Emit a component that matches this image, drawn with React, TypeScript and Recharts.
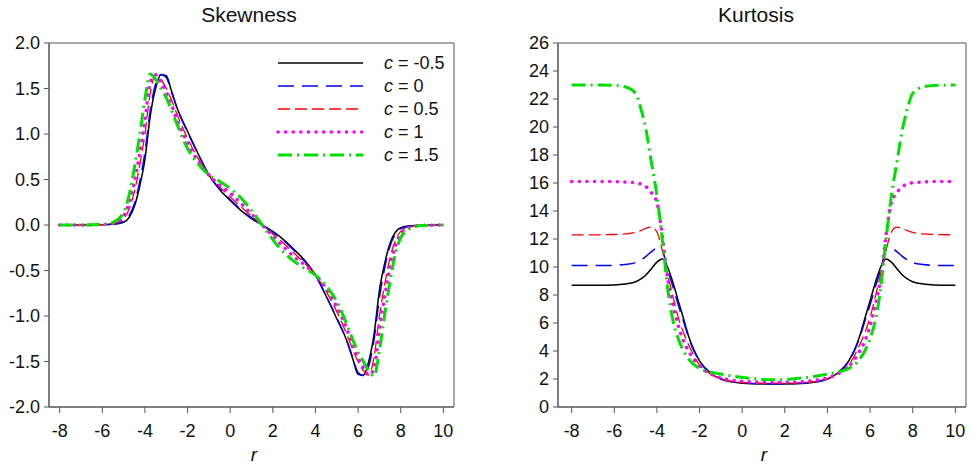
import React from 'react';
import { LineChart, Line, XAxis, YAxis, ReferenceArea } from 'recharts';

// r grid (shared by both panels)
const R = [
  -8, -7, -6, -5.5, -5, -4.75, -4.5, -4.25, -4, -3.75, -3.5, -3.25, -3, -2.75, -2.5, -2, -1.5, -1, -0.5, 0, 0.5, 1,
  1.5, 2, 2.5, 3, 3.5, 4, 4.5, 5, 5.5, 5.75, 6, 6.25, 6.5, 6.75, 7, 7.25, 7.5, 7.75, 8, 8.5, 9, 10,
];

// Skewness
const SKEW_CM05 = [
  0, 0, 0.002, 0.008, 0.03, 0.08, 0.2, 0.42, 0.72, 1.2, 1.5, 1.65, 1.64, 1.47, 1.29, 1.03, 0.78, 0.55, 0.39, 0.27, 0.16, 0.07,
  0, -0.07, -0.16, -0.27, -0.39, -0.55, -0.78, -1.03, -1.29, -1.47, -1.64, -1.65, -1.5, -1.2, -0.72, -0.42, -0.2, -0.08, -0.03, -0.008, -0.002, 0,
];
const SKEW_C0 = [
  0, 0, 0.003, 0.01, 0.04, 0.1, 0.23, 0.47, 0.8, 1.26, 1.55, 1.655, 1.62, 1.46, 1.29, 1.02, 0.78, 0.55, 0.4, 0.28, 0.17, 0.08,
  0, -0.08, -0.17, -0.28, -0.4, -0.55, -0.78, -1.02, -1.29, -1.46, -1.62, -1.655, -1.55, -1.26, -0.8, -0.47, -0.23, -0.1, -0.04, -0.01, -0.003, 0,
];
const SKEW_C05 = [
  0, 0, 0.004, 0.015, 0.07, 0.17, 0.36, 0.65, 1.0, 1.45, 1.65, 1.6, 1.5, 1.37, 1.22, 0.95, 0.73, 0.55, 0.42, 0.31, 0.2, 0.1,
  0, -0.1, -0.2, -0.31, -0.42, -0.55, -0.73, -0.95, -1.22, -1.37, -1.5, -1.6, -1.65, -1.45, -1.0, -0.65, -0.36, -0.17, -0.07, -0.015, -0.004, 0,
];
const SKEW_C1 = [
  0, 0, 0.005, 0.02, 0.1, 0.23, 0.46, 0.78, 1.15, 1.57, 1.65, 1.57, 1.46, 1.32, 1.16, 0.9, 0.7, 0.55, 0.44, 0.35, 0.24, 0.12,
  0, -0.12, -0.24, -0.35, -0.44, -0.55, -0.7, -0.9, -1.16, -1.32, -1.46, -1.57, -1.65, -1.57, -1.15, -0.78, -0.46, -0.23, -0.1, -0.02, -0.005, 0,
];
const SKEW_C15 = [
  0, 0, 0.006, 0.03, 0.14, 0.32, 0.62, 0.98, 1.38, 1.66, 1.6, 1.5, 1.4, 1.26, 1.11, 0.84, 0.67, 0.55, 0.48, 0.4, 0.3, 0.16,
  0, -0.16, -0.3, -0.4, -0.48, -0.55, -0.67, -0.84, -1.11, -1.26, -1.4, -1.5, -1.6, -1.66, -1.38, -0.98, -0.62, -0.32, -0.14, -0.03, -0.006, 0,
];

// Kurtosis
const KURT_CM05 = [
  8.7, 8.7, 8.72, 8.78, 8.95, 9.15, 9.45, 9.9, 10.35, 10.58, 10.0, 8.9, 7.6, 6.3, 5.0, 3.3, 2.45, 2.0, 1.8, 1.7, 1.66, 1.65,
  1.65, 1.65, 1.66, 1.7, 1.8, 2.0, 2.45, 3.3, 5.0, 6.3, 7.6, 8.9, 10.0, 10.58, 10.35, 9.9, 9.45, 9.15, 8.95, 8.78, 8.72, 8.7,
];
const KURT_C0 = [
  10.1, 10.1, 10.12, 10.18, 10.32, 10.5, 10.78, 11.1, 11.35, 11.2, 9.8, 8.6, 7.3, 6.1, 4.9, 3.25, 2.43, 2.0, 1.8, 1.71, 1.67, 1.66,
  1.66, 1.66, 1.67, 1.71, 1.8, 2.0, 2.43, 3.25, 4.9, 6.1, 7.3, 8.6, 9.8, 11.2, 11.35, 11.1, 10.78, 10.5, 10.32, 10.18, 10.12, 10.1,
];
const KURT_C05 = [
  12.3, 12.3, 12.32, 12.36, 12.47, 12.6, 12.78, 12.85, 12.5, 11.2, 9.5, 7.9, 6.4, 5.3, 4.4, 3.0, 2.38, 2.0, 1.83, 1.75, 1.71, 1.7,
  1.7, 1.7, 1.71, 1.75, 1.83, 2.0, 2.38, 3.0, 4.4, 5.3, 6.4, 7.9, 9.5, 11.2, 12.5, 12.85, 12.78, 12.6, 12.47, 12.36, 12.32, 12.3,
];
const KURT_C1 = [
  16.1, 16.1, 16.1, 16.07, 16.02, 15.92, 15.72, 15.3, 14.6, 12.3, 9.2, 7.3, 5.8, 4.7, 3.95, 2.9, 2.38, 2.08, 1.92, 1.83, 1.79, 1.77,
  1.76, 1.77, 1.79, 1.83, 1.92, 2.08, 2.38, 2.9, 3.95, 4.7, 5.8, 7.3, 9.2, 12.3, 14.6, 15.3, 15.72, 15.92, 16.02, 16.07, 16.1, 16.1,
];
const KURT_C15 = [
  23, 23, 22.97, 22.87, 22.4, 21.3, 19.7, 17.4, 15.1, 12.0, 8.5, 6.2, 4.9, 4.0, 3.4, 2.75, 2.5, 2.35, 2.22, 2.1, 2.03, 1.96,
  1.94, 1.96, 2.03, 2.1, 2.22, 2.35, 2.5, 2.75, 3.4, 4.0, 4.9, 6.2, 8.5, 12.0, 15.1, 17.4, 19.7, 21.3, 22.4, 22.87, 22.97, 23,
];

const X_TICKS = [-8, -6, -4, -2, 0, 2, 4, 6, 8, 10];
const SKEW_TICKS = [-2, -1.5, -1, -0.5, 0, 0.5, 1, 1.5, 2];
const KURT_TICKS = [0, 2, 4, 6, 8, 10, 12, 14, 16, 18, 20, 22, 24, 26];
const C_LABELS = ['-0.5', '0', '0.5', '1', '1.5'];

const SERIES = [
  { key: 'cm05', color: '#000000', width: 1.5, dash: undefined, cap: 'butt' },
  { key: 'c0', color: '#0000ff', width: 1.5, dash: '16 8', cap: 'butt' },
  { key: 'c05', color: '#ff0000', width: 1.3, dash: '12 5', cap: 'butt' },
  { key: 'c1', color: '#ff00ff', width: 3.5, dash: '0.1 7.5', cap: 'round' },
  { key: 'c15', color: '#00e000', width: 3, dash: '14 5 2 5', cap: 'butt' },
];

const FONT = '"Liberation Sans", Arial, sans-serif';
const AXIS = '#555555';

const skewData = R.map((r, i) => ({
  r,
  cm05: SKEW_CM05[i],
  c0: SKEW_C0[i],
  c05: SKEW_C05[i],
  c1: SKEW_C1[i],
  c15: SKEW_C15[i],
}));

const kurtData = R.map((r, i) => ({
  r,
  cm05: KURT_CM05[i],
  c0: KURT_C0[i],
  c05: KURT_C05[i],
  c1: KURT_C1[i],
  c15: KURT_C15[i],
}));

const tickStyle = { fontSize: 18, fill: '#111', fontFamily: FONT };

const Panel = ({ data, xDomain, yDomain, yTicks, yFmt, marginLeft, marginRight, width }: any) => (
  <LineChart
    width={width}
    height={466}
    data={data}
    margin={{ top: 43, right: marginRight, bottom: 29, left: marginLeft }}
  >
    <XAxis
      dataKey="r"
      type="number"
      domain={xDomain}
      ticks={X_TICKS}
      allowDataOverflow
      stroke={AXIS}
      tickSize={6}
      tickMargin={11}
      height={30}
      tick={tickStyle}
    />
    <YAxis
      type="number"
      domain={yDomain}
      ticks={yTicks}
      allowDataOverflow
      stroke={AXIS}
      tickSize={5}
      tickMargin={4}
      width={40}
      tick={tickStyle}
      tickFormatter={yFmt}
    />
    <ReferenceArea
      x1={xDomain[0]}
      x2={xDomain[1]}
      y1={yDomain[0]}
      y2={yDomain[1]}
      fill="none"
      fillOpacity={0}
      stroke={AXIS}
      strokeWidth={1}
    />
    {SERIES.map((s) => (
      <Line
        key={s.key}
        dataKey={s.key}
        type="monotone"
        stroke={s.color}
        strokeWidth={s.width}
        strokeDasharray={s.dash}
        strokeLinecap={s.cap as any}
        dot={false}
        activeDot={false}
        isAnimationActive={false}
      />
    ))}
  </LineChart>
);

const LegendBox = () => (
  <svg width={200} height={120} style={{ position: 'absolute', left: 270, top: 50 }}>
    {SERIES.map((s, i) => {
      const y = 13 + i * 23;
      return (
        <g key={s.key}>
          <line
            x1={8}
            x2={93}
            y1={y}
            y2={y}
            stroke={s.color}
            strokeWidth={s.width}
            strokeDasharray={s.dash}
            strokeLinecap={s.cap as any}
          />
          <text x={114} y={y + 6} fontSize={18} fontFamily={FONT} fill="#111">
            <tspan fontStyle="italic">c</tspan> = {C_LABELS[i]}
          </text>
        </g>
      );
    })}
  </svg>
);

const textStyle: React.CSSProperties = {
  position: 'absolute',
  fontFamily: FONT,
  color: '#111',
  whiteSpace: 'nowrap',
  transform: 'translateX(-50%)',
};

export default function App() {
  return (
    <div
      style={{
        position: 'absolute',
        left: 0,
        top: 0,
        width: 971,
        height: 466,
        background: '#fff',
        overflow: 'hidden',
      }}
    >
      <div style={{ position: 'absolute', left: 0, top: 0 }}>
        <Panel
          data={skewData}
          width={480}
          xDomain={[-8.5, 10.5]}
          yDomain={[-2, 2]}
          yTicks={SKEW_TICKS}
          yFmt={(v: number) => v.toFixed(1)}
          marginLeft={9}
          marginRight={26}
        />
      </div>
      <div style={{ position: 'absolute', left: 490, top: 0 }}>
        <Panel
          data={kurtData}
          width={481}
          xDomain={[-8.64, 10.5]}
          yDomain={[0, 26]}
          yTicks={KURT_TICKS}
          yFmt={(v: number) => String(v)}
          marginLeft={28}
          marginRight={5}
        />
      </div>
      <LegendBox />
      <div style={{ ...textStyle, left: 249, top: 3, fontSize: 21 }}>Skewness</div>
      <div style={{ ...textStyle, left: 756, top: 3, fontSize: 21 }}>Kurtosis</div>
      <div style={{ ...textStyle, left: 254, top: 444, fontSize: 19, fontStyle: 'italic' }}>r</div>
      <div style={{ ...textStyle, left: 764, top: 444, fontSize: 19, fontStyle: 'italic' }}>r</div>
    </div>
  );
}
